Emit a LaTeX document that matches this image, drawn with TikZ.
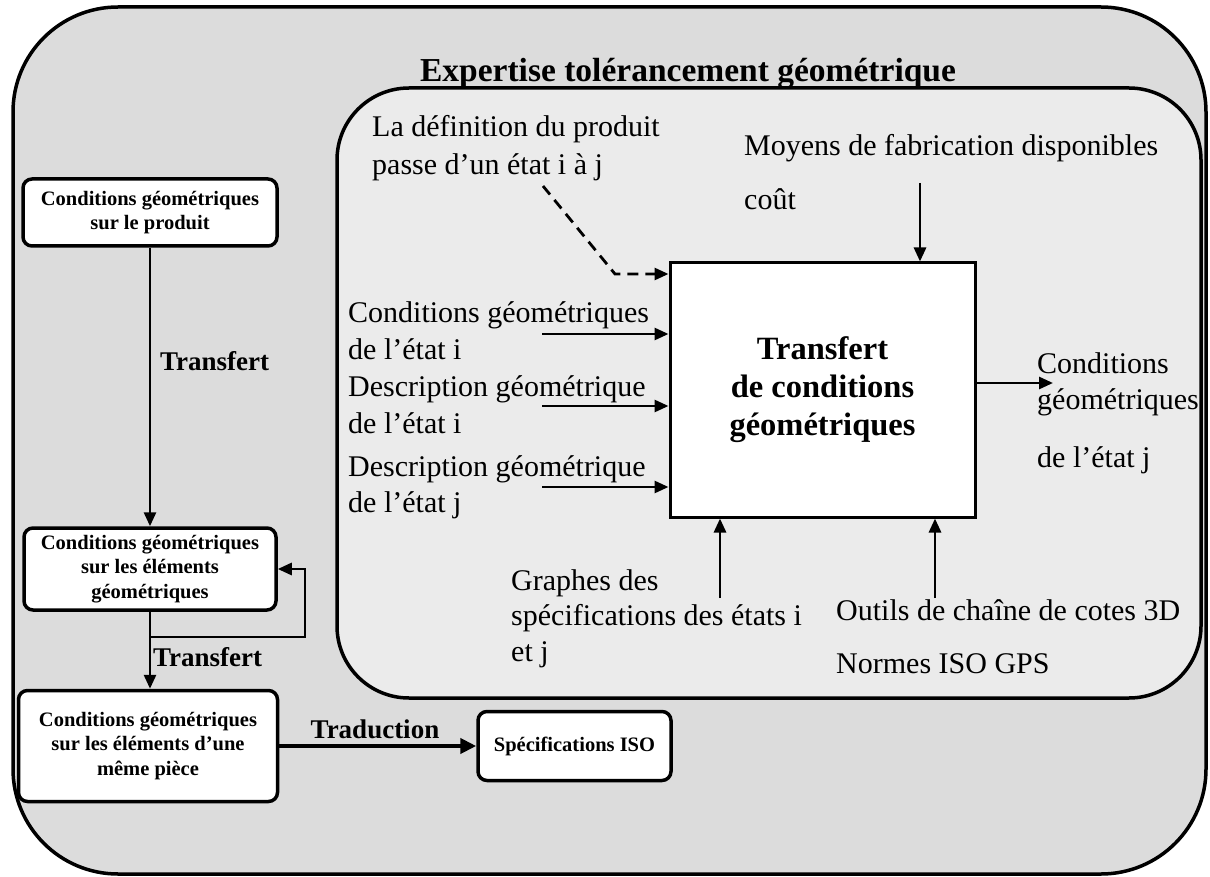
\documentclass[tikz,border=0pt]{standalone}
\usepackage{fontspec}
\setmainfont{Liberation Serif}
\usetikzlibrary{arrows.meta}
\definecolor{outerfill}{RGB}{220,220,220}
\definecolor{innerfill}{RGB}{235,235,235}
\begin{document}
\begin{tikzpicture}[x=1pt,y=-1pt,
  frame/.style={draw, line width=3.5pt},
  box/.style={draw, line width=3.5pt, rounded corners=9pt, fill=white, align=center,
    inner sep=0pt, font=\fontsize{20.5}{24.5}\selectfont\bfseries},
  lbl/.style={anchor=base west, inner sep=0pt, font=\fontsize{30}{34}\selectfont},
  blbl/.style={anchor=base west, inner sep=0pt, font=\fontsize{27}{30}\selectfont\bfseries},
  arr/.style={-{Triangle[length=14pt,width=12pt]}, line width=2.8pt},
  darr/.style={arr, dash pattern=on 11pt off 7pt}]
\useasboundingbox (0,0) rectangle (1210,877);

% outer and inner frames
\draw[frame, fill=outerfill, rounded corners=105pt] (13,7) rectangle (1206,874);
\draw[frame, fill=innerfill, rounded corners=72pt] (337,88) rectangle (1201,698);
\node[anchor=base, inner sep=0pt, font=\fontsize{33.5}{38}\selectfont\bfseries] (title) at (688,82)
  {Expertise tolérancement géométrique};

% central activity box
\node[draw, line width=3pt, fill=white, minimum width=305pt, minimum height=254pt,
  align=center, font=\fontsize{32.5}{38}\selectfont\bfseries] (tc) at (822.5,390)
  {Transfert\\de conditions\\géométriques};

% left chain of conditions
\node[box, minimum width=254pt, minimum height=67pt] (b1) at (150,212.5)
  {Conditions géométriques\\sur le produit};
\node[box, minimum width=252pt, minimum height=82pt] (b2) at (150,569)
  {Conditions géométriques\\sur les éléments\\géométriques};
\node[box, minimum width=259pt, minimum height=111pt] (b3) at (148,746)
  {Conditions géométriques\\sur les éléments d’une\\même pièce};
\node[box, minimum width=193pt, minimum height=69pt] (b4) at (574.5,746)
  {Spécifications ISO};

\draw[arr] (b1.south) -- (b1.south |- b2.north);
\node[blbl] (t1) at (160,370) {Transfert};
\coordinate (lp) at (305,637);
\draw[arr] (b2.south) |- (lp) |- (b2.east);
\draw[arr] (b2.south) -- (b2.south |- b3.north);
\node[blbl] (t2) at (153,666) {Transfert};
\draw[arr, line width=4.5pt, -{Triangle[length=16pt,width=15pt]}] (b3.east) -- (b4.west);
\node[anchor=base, inner sep=0pt, font=\fontsize{27}{30}\selectfont\bfseries] (t3) at (375,738) {Traduction};

% control input (dashed)
\node[lbl] (c1) at (372,137) {La définition du produit};
\node[lbl] (c2) at (372,175) {passe d’un état i à j};
\coordinate (d0) at (543,186);
\coordinate (d1) at (615,274);
\draw[darr] (d0) -- (d1) -- (d1 -| tc.west);

% top input
\node[lbl] (m1) at (744,156) {Moyens de fabrication disponibles};
\node[lbl] (m2) at (744,210) {coût};
\coordinate (tp) at (920,183);
\draw[arr] (tp) -- (tp |- tc.north);

% left inputs
\node[lbl] (i1) at (348,323) {Conditions géométriques};
\node[lbl] (i2) at (348,359) {de l’état i};
\node[lbl] (i3) at (348,396) {Description géométrique};
\node[lbl] (i4) at (348,433) {de l’état i};
\node[lbl] (i5) at (348,476) {Description géométrique};
\node[lbl] (i6) at (348,512) {de l’état j};
\coordinate (a1) at (542,334);
\coordinate (a2) at (542,406);
\coordinate (a3) at (542,487);
\draw[arr] (a1) -- (a1 -| tc.west);
\draw[arr] (a2) -- (a2 -| tc.west);
\draw[arr] (a3) -- (a3 -| tc.west);

% bottom mechanisms
\node[lbl] (g1) at (511,590) {Graphes des};
\node[lbl] (g2) at (511,625) {spécifications des états i};
\node[lbl] (g3) at (511,661) {et j};
\node[lbl] (o1) at (836,620) {Outils de chaîne de cotes 3D};
\node[lbl] (o2) at (836,673) {Normes ISO GPS};
\coordinate (u1) at (720,598);
\coordinate (u2) at (935,598);
\draw[arr] (u1) -- (u1 |- tc.south);
\draw[arr] (u2) -- (u2 |- tc.south);

% output
\coordinate (out) at (1053,383);
\draw[arr] (out -| tc.east) -- (out);
\node[lbl] (r1) at (1037,373) {Conditions};
\node[lbl] (r2) at (1037,409) {géométriques};
\node[lbl] (r3) at (1037,467) {de l’état j};
\end{tikzpicture}
\end{document}
